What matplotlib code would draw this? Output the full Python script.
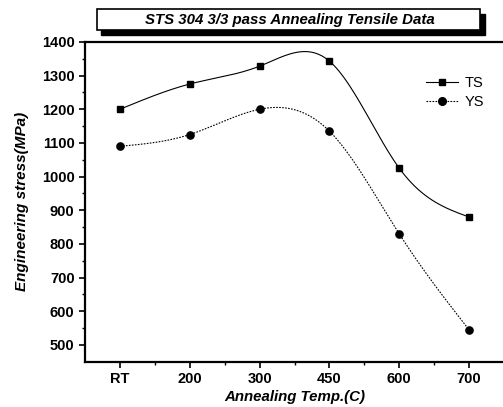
import numpy as np
import matplotlib
matplotlib.use('Agg')
import matplotlib.pyplot as plt
from matplotlib.patches import Rectangle

# Data
temps = ['RT', '200', '300', '450', '600', '700']
ts = [1200, 1275, 1328, 1343, 1025, 880]
ys = [1090, 1125, 1200, 1135, 830, 545]


def natural_spline(y, n=200):
    # natural cubic spline through equally spaced points (x = 0..len-1)
    y = np.asarray(y, dtype=float)
    m = len(y)
    A = np.zeros((m, m))
    b = np.zeros(m)
    A[0, 0] = A[-1, -1] = 1
    for i in range(1, m - 1):
        A[i, i - 1], A[i, i], A[i, i + 1] = 1, 4, 1
        b[i] = 6 * (y[i + 1] - 2 * y[i] + y[i - 1])
    M = np.linalg.solve(A, b)
    xs = np.linspace(0, m - 1, n)
    out = np.empty_like(xs)
    for k, x in enumerate(xs):
        i = min(int(x), m - 2)
        t = x - i
        out[k] = ((1 - t) * y[i] + t * y[i + 1]
                  + ((1 - t) ** 3 - (1 - t)) * M[i] / 6
                  + (t ** 3 - t) * M[i + 1] / 6)
    return xs, out


plt.rcParams['font.family'] = ['Liberation Sans', 'DejaVu Sans']
fig = plt.figure(figsize=(5.03, 4.07), dpi=100)
ax = fig.add_axes([0.169, 0.111, 0.833, 0.786])

x = np.arange(len(temps))
dots = (0, (1.5, 1.2))
sx, sy = natural_spline(ts)
ax.plot(sx, sy, color='black', lw=0.8)
ax.plot(x, ts, 's', color='black', ms=4.5)
sx, sy = natural_spline(ys)
ax.plot(sx, sy, color='black', lw=0.8, ls=dots)
ax.plot(x, ys, 'o', color='black', ms=5.2)

# legend handles with lines through markers
h1, = ax.plot([], [], '-s', color='black', lw=0.8, ms=4.5)
h2, = ax.plot([], [], 'o', color='black', lw=0.8, ms=5.5, ls=dots)
ax.legend([h1, h2], ['TS', 'YS'], loc='upper right', bbox_to_anchor=(0.985, 0.935),
          frameon=False, handlelength=2.2, handletextpad=0.5, labelspacing=0.35,
          prop={'size': 10.5})

ax.set_xlim(-0.5, 5.5)
ax.set_ylim(450, 1400)
ax.set_xticks(x)
ax.set_xticklabels(temps)
ax.set_xticks(x[:-1] + 0.5, minor=True)
ax.set_yticks(np.arange(500, 1401, 100))
ax.set_yticks(np.arange(550, 1400, 100), minor=True)
ax.tick_params(which='major', direction='out', length=4, width=1.2, labelsize=10.5)
ax.tick_params(which='minor', direction='out', length=2.5, width=1)
for lab in ax.get_xticklabels() + ax.get_yticklabels():
    lab.set_fontweight('bold')
for s in ['left', 'bottom', 'top']:
    ax.spines[s].set_linewidth(1.6)
ax.spines['right'].set_visible(False)

ax.set_xlabel('Annealing Temp.(C)', fontsize=10.8, fontweight='bold', style='italic', labelpad=3)
ax.set_ylabel('Engineering stress(MPa)', fontsize=11, fontweight='bold', style='italic', labelpad=9)

# title box with drop shadow
fig.patches.append(Rectangle((0.201, 0.914), 0.763, 0.052, transform=fig.transFigure,
                             facecolor='black', edgecolor='black'))
fig.patches.append(Rectangle((0.193, 0.926), 0.761, 0.052, transform=fig.transFigure,
                             facecolor='white', edgecolor='black', lw=1.2))
fig.text(0.577, 0.952, 'STS 304 3/3 pass Annealing Tensile Data', ha='center', va='center',
         fontsize=10.8, fontweight='bold', style='italic')

fig.savefig('out.png', dpi=100)
